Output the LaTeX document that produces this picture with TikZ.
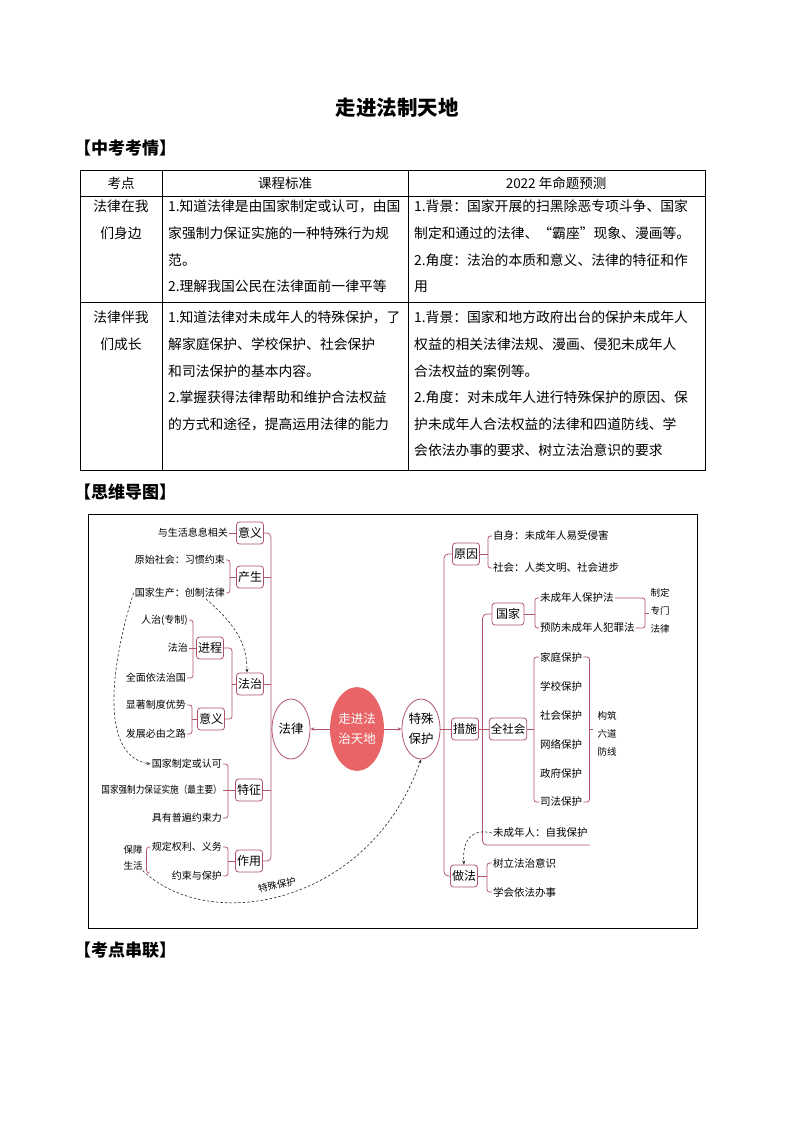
\documentclass[tikz,border=0pt]{standalone}
\usepackage{fontspec}
\setmainfont{Noto Sans CJK SC}
\newfontfamily\narrowcjk[FakeStretch=0.86]{Noto Sans CJK SC}
\usetikzlibrary{shapes.geometric,arrows.meta}
\definecolor{mapline}{RGB}{176,84,106}
\definecolor{mapred}{RGB}{232,100,102}

\begin{document}
\begin{tikzpicture}[x=1pt, y=-1pt,
    table line/.style={line width=0.9pt},
    cell text/.style={anchor=north west, inner sep=0pt, align=left,
      font=\fontsize{13.8}{26.6}\selectfont},
    head text/.style={inner sep=0pt, font=\fontsize{13.5}{13.5}\selectfont},
    section head/.style={anchor=west, inner sep=0pt, font=\bfseries\fontsize{17}{17}\selectfont},
    box node/.style={draw=mapline, line width=0.8pt, rounded corners=3pt, fill=white,
      minimum width=27pt, minimum height=22pt, inner sep=1.5pt, font=\fontsize{12}{12}\selectfont},
    round node/.style={ellipse, draw=mapline, line width=0.8pt, fill=white, inner sep=0pt,
      minimum width=38pt, minimum height=60pt, align=center, font=\fontsize{12.5}{20}\selectfont},
    left leaf/.style={anchor=east, inner sep=1pt, font=\fontsize{10}{10}\selectfont},
    right leaf/.style={anchor=west, inner sep=1pt, font=\fontsize{10.5}{10.5}\selectfont},
    note/.style={inner sep=0pt, align=center, font=\fontsize{9.5}{18}\selectfont},
    link/.style={draw=mapline, line width=0.75pt},
    bracket/.style={link, rounded corners=2.5pt},
    hint/.style={draw=black!85, line width=0.6pt, dash pattern=on 2.5pt off 2pt,
      -{Stealth[length=4pt,width=3pt]}}]
  \useasboundingbox (0,0) rectangle (794,1123);
  \fill[white] (0,0) rectangle (794,1123);

  % title and table
  \node[font=\bfseries\fontsize{20.5}{20.5}\selectfont] (title) at (397,108) {走进法制天地};
  \node[section head] (kaoqing) at (74,148) {【中考考情】};

  \draw[table line] (80,170) rectangle (705,470);
  \draw[table line] (80,196) -- (705,196);
  \draw[table line] (80,302) -- (705,302);
  \draw[table line] (162,170) -- (162,470);
  \draw[table line] (408,170) -- (408,470);

  \node[head text] (h1) at (121,183) {考点};
  \node[head text] (h2) at (285,183) {课程标准};
  \node[head text] (h3) at (556,183) {2022 年命题预测};

  \node[cell text, anchor=north, align=center] (r1a) at (121,200) {法律在我\\们身边};
  \node[cell text] (r1b) at (168,200) {1.知道法律是由国家制定或认可，由国\\家强制力保证实施的一种特殊行为规\\范。\\2.理解我国公民在法律面前一律平等};
  \node[cell text] (r1c) at (414,200) {1.背景：国家开展的扫黑除恶专项斗争、国家\\制定和通过的法律、“霸座”现象、漫画等。\\2.角度：法治的本质和意义、法律的特征和作\\用};

  \node[cell text, anchor=north, align=center] (r2a) at (121,311) {法律伴我\\们成长};
  \node[cell text] (r2b) at (168,311) {1.知道法律对未成年人的特殊保护，了\\解家庭保护、学校保护、社会保护\\和司法保护的基本内容。\\2.掌握获得法律帮助和维护合法权益\\的方式和途径，提高运用法律的能力};
  \node[cell text] (r2c) at (414,311) {1.背景：国家和地方政府出台的保护未成年人\\权益的相关法律法规、漫画、侵犯未成年人\\合法权益的案例等。\\2.角度：对未成年人进行特殊保护的原因、保\\护未成年人合法权益的法律和四道防线、学\\会依法办事的要求、树立法治意识的要求};

  \node[section head] (daotu) at (74,492) {【思维导图】};
  \draw[line width=0.9pt] (88,514) rectangle (697,928);

  % centre
  \node[round node, draw=mapred, fill=mapred, text=white, minimum width=50pt,
        minimum height=83pt] (zoujin) at (357,729) {走进法\\治天地};
  \node[round node] (falv) at (291,729) {法律};
  \node[round node, minimum width=38pt] (teshu) at (421,729) {特殊\\保护};
  \draw[link, -{Stealth[length=4pt,width=3.5pt]}] (zoujin) -- (falv);
  \draw[link, -{Stealth[length=4pt,width=3.5pt]}] (zoujin) -- (teshu);

  % left branch
  \node[box node] (yiyi) at (250,533) {意义};
  \node[box node] (chansheng) at (250,577) {产生};
  \node[box node] (fazhi) at (250,684) {法治};
  \node[box node] (tezheng) at (249,790) {特征};
  \node[box node] (zuoyong) at (249,861) {作用};
  \node[box node] (jincheng) at (210,648) {进程};
  \node[box node] (yiyi2) at (211,719) {意义};

  \node[left leaf] (shenghuo) at (229,533) {与生活息息相关};
  \node[left leaf] (yuanshi) at (226,560) {原始社会：习惯约束};
  \node[left leaf] (chuangzhi) at (226,593) {国家生产：创制法律};
  \node[left leaf] (renzhi) at (189,620) {人治(专制)};
  \node[left leaf] (lfazhi) at (189,648) {法治};
  \node[left leaf] (quanmian) at (187,678) {全面依法治国};
  \node[left leaf] (xianzhu) at (187,705) {显著制度优势};
  \node[left leaf] (fazhan) at (187,734) {发展必由之路};
  \node[left leaf] (zhiding) at (223,764) {国家制定或认可};
  \node[left leaf] (qiangzhi) at (223,790) {\narrowcjk 国家强制力保证实施（最主要）};
  \node[left leaf] (pubian) at (223,818) {具有普遍约束力};
  \node[left leaf] (quanli) at (223,847) {规定权利、义务};
  \node[left leaf] (yueshu) at (223,876) {约束与保护};
  \node[note, font=\fontsize{9.5}{16}\selectfont] (baozhang) at (133,858) {保障\\生活};

  \path[link] (shenghuo) edge (yiyi)
              (lfazhi) edge (jincheng)
              (qiangzhi) edge (tezheng);
  \draw[bracket] (yuanshi.east) -- ++(4,0) |- (chuangzhi.east);
  \draw[link] (chansheng.west) -- ([xshift=4pt]yuanshi.east |- chansheng.west);
  \draw[bracket] (renzhi.east) -- ++(4,0) |- (quanmian.east);
  \draw[bracket] (xianzhu.east) -- ++(5,0) |- (fazhan.east);
  \draw[link] (yiyi2.west) -- ([xshift=5pt]xianzhu.east |- yiyi2.west);
  \draw[bracket] (jincheng.east) -- ++(8,0) |- (yiyi2.east);
  \draw[link] (fazhi.west) -- ([xshift=8pt]jincheng.east |- fazhi.west);
  \draw[bracket] (zhiding.east) -- ++(5,0) |- (pubian.east);
  \draw[bracket] (quanli.east) -- ++(5,0) |- (yueshu.east);
  \draw[link] (zuoyong.west) -- ([xshift=5pt]quanli.east |- zuoyong.west);
  \draw[bracket] (quanli.west) -- ++(-4,0) -- ++(0,26) -- ++(3,0);
  \draw[bracket, rounded corners=4pt] (yiyi.east) -- ++(7,0) |- (zuoyong.east);
  \foreach \b in {chansheng,fazhi,tezheng}
    \draw[link] (\b.east) -- ([xshift=7pt]yiyi.east |- \b.east);
  \draw[link] (falv.west) -- ([xshift=7pt]yiyi.east |- falv.west);

  \draw[hint] ([xshift=-20pt]chuangzhi.south east) .. controls (232,622) and (247,640) .. ([xshift=-3pt]fazhi.north);
  \draw[hint] (chuangzhi.west) .. controls (115,650) and (95,755) .. (zhiding.west);
  \draw[hint] (baozhang.south east) .. controls (210,935) and (370,905) .. (teshu.south);
  \node[note, rotate=12] (tsbh) at (277,885) {特殊保护};

  % right branch
  \node[box node] (yuanyin) at (466,554) {原因};
  \node[box node] (cuoshi) at (465,729) {措施};
  \node[box node] (zuofa) at (464,876) {做法};
  \node[box node, minimum width=32pt] (guojia) at (508,614) {国家};
  \node[box node, font=\fontsize{11.5}{11.5}\selectfont] (quanshehui) at (508,729) {全社会};

  \node[right leaf] (zishen) at (492,536) {自身：未成年人易受侵害};
  \node[right leaf] (shehui) at (492,568) {社会：人类文明、社会进步};
  \node[right leaf] (baohufa) at (539,598) {未成年人保护法};
  \node[right leaf] (yufangfa) at (539,628) {预防未成年人犯罪法};
  \node[note] (zhuanmen) at (660,611) {制定\\专门\\法律};
  \foreach \t [count=\i] in {家庭保护,学校保护,社会保护,网络保护,政府保护,司法保护}
    \node[right leaf] (bh\i) at (539,628+\i*29) {\t};
  \node[note] (gouzhu) at (607,734) {构筑\\六道\\防线};
  \node[right leaf] (ziwo) at (492,833) {未成年人：自我保护};
  \node[right leaf] (shuli) at (492,863) {树立法治意识};
  \node[right leaf] (xuehui) at (492,892) {学会依法办事};
  \coordinate (ziwoend) at (590,845);
  \coordinate (zdmid) at (645,613);

  \draw[bracket, rounded corners=4pt] (yuanyin.west) -- ++(-8,0) |- (zuofa.west);
  \path[link] (teshu) edge (cuoshi)
              (cuoshi) edge (quanshehui);
  \draw[bracket] (zishen.west) -- ++(-4,0) |- (shehui.west);
  \draw[link] (yuanyin.east) -- ([xshift=-4pt]zishen.west |- yuanyin.east);
  \draw[bracket, rounded corners=4pt] (guojia.west) -- ++(-9,0) |- (ziwoend);
  \draw[bracket] (baohufa.west) -- ++(-4,0) |- (yufangfa.west);
  \draw[link] (guojia.east) -- ([xshift=-4pt]baohufa.west |- guojia.east);
  \draw[bracket] (baohufa.east) -| (zdmid) |- (yufangfa.east);
  \draw[link] (zdmid) -- ++(4,0);
  \draw[bracket] (bh1.west) -- ++(-5,0) |- (bh6.west);
  \draw[link] (quanshehui.east) -- ([xshift=-5pt]bh1.west |- quanshehui.east);
  \draw[bracket] (bh1.east) -- ++(6,0) |- (bh6.east);
  \draw[link] ([xshift=6pt]bh1.east |- quanshehui.east) -- ++(4,0);
  \draw[bracket] (shuli.west) -- ++(-5,0) |- (xuehui.west);
  \draw[link] (zuofa.east) -- ([xshift=-5pt]shuli.west |- zuofa.east);
  \draw[hint] (ziwo.west) .. controls (472,828) and (462,840) .. (zuofa.north);

  \node[section head] (chuanlian) at (74,950) {【考点串联】};
\end{tikzpicture}
\end{document}
